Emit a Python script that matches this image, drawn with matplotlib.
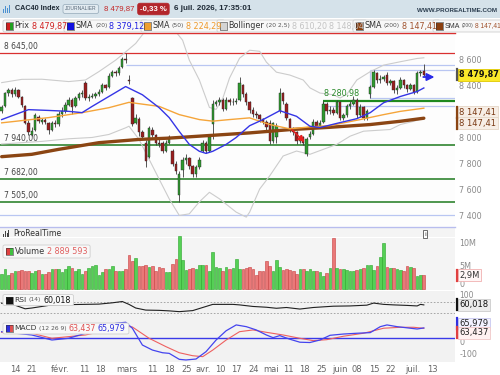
import matplotlib
matplotlib.use('Agg')
import matplotlib.pyplot as plt
from matplotlib.patches import Rectangle, FancyBboxPatch
from matplotlib.lines import Line2D
import numpy as np

plt.rcParams['font.family'] = ['DejaVu Sans']

# ---------------- data ----------------
opens = [8200, 8240, 8340, 8360, 8330, 8360, 8310, 8240, 8110, 8020,
         8060, 8160, 8120, 8135, 8110, 8060, 8110, 8100, 8180, 8200,
         8250, 8290, 8240, 8300, 8330, 8420, 8300, 8310, 8320, 8330,
         8350, 8400, 8390, 8470, 8500, 8490, 8540, 8600, 8440, 8300,
         8110, 8140, 8040, 7960, 7850, 8060, 8020, 7960, 7960, 7900,
         7960, 7900, 7800, 7560, 7750, 7830, 7840, 7780, 7720, 7770,
         7900, 7960, 7900, 8100, 8260, 8270, 8290, 8220, 8290, 8270,
         8270, 8290, 8400, 8330, 8270, 8210, 8180, 8170, 8140, 8115,
         8110, 7970, 8000, 8200, 8340, 8260, 8140, 8060, 8040, 7970,
         8000, 7870, 8000, 8030, 8120, 8090, 8120, 8260, 8200, 8210,
         8190, 8270, 8150, 8170, 8240, 8260, 8290, 8170, 8230, 8150,
         8330, 8390, 8490, 8440, 8450, 8480, 8420, 8430, 8360, 8380,
         8440, 8400, 8370, 8400, 8350, 8490, 8510]
highs = [8250, 8350, 8380, 8375, 8390, 8370, 8320, 8250, 8130, 8080,
         8190, 8175, 8150, 8150, 8120, 8125, 8130, 8200, 8230, 8270,
         8310, 8300, 8320, 8350, 8360, 8430, 8330, 8340, 8350, 8370,
         8420, 8410, 8490, 8520, 8520, 8550, 8620, 8645, 8480, 8310,
         8180, 8160, 8060, 7980, 8090, 8080, 8030, 7990, 7970, 7980,
         8020, 7910, 7820, 7740, 7850, 7870, 7850, 7790, 7790, 7850,
         7980, 7970, 8010, 8290, 8290, 8310, 8300, 8310, 8300, 8300,
         8300, 8460, 8410, 8350, 8280, 8230, 8200, 8180, 8150, 8130,
         8130, 8120, 8110, 8380, 8350, 8270, 8150, 8080, 8050, 8020,
         8010, 8000, 8050, 8140, 8130, 8130, 8281, 8270, 8240, 8230,
         8290, 8280, 8190, 8260, 8280, 8320, 8300, 8260, 8240, 8220,
         8400, 8520, 8500, 8480, 8480, 8500, 8450, 8440, 8400, 8460,
         8450, 8410, 8420, 8410, 8510, 8520, 8560]
lows = [8190, 8230, 8320, 8310, 8320, 8300, 8230, 8100, 8020, 8010,
        8050, 8110, 8100, 8100, 8030, 8050, 8080, 8090, 8160, 8190,
        8240, 8180, 8230, 8290, 8310, 8290, 8280, 8300, 8300, 8320,
        8340, 8360, 8380, 8460, 8470, 8480, 8530, 8570, 8410, 8090,
        8100, 8010, 7990, 7770, 7840, 8000, 7940, 7930, 7880, 7890,
        7950, 7780, 7720, 7505, 7700, 7800, 7760, 7700, 7700, 7760,
        7890, 7880, 7890, 7990, 8240, 8250, 8200, 8210, 8250, 8250,
        8260, 8280, 8310, 8250, 8190, 8160, 8150, 8120, 8100, 8060,
        7950, 7960, 7960, 8190, 8260, 8130, 8040, 8020, 7950, 7960,
        7940, 7855, 7990, 8020, 8070, 8080, 8110, 8180, 8180, 8170,
        8180, 8130, 8130, 8160, 8220, 8250, 8150, 8160, 8130, 8130,
        8300, 8380, 8420, 8420, 8430, 8400, 8400, 8340, 8330, 8370,
        8380, 8350, 8360, 8330, 8340, 8470, 8470]
closes = [8230, 8340, 8360, 8330, 8360, 8310, 8250, 8110, 8040, 8050,
          8170, 8125, 8130, 8120, 8060, 8110, 8100, 8180, 8200, 8250,
          8290, 8230, 8300, 8330, 8340, 8300, 8310, 8320, 8330, 8350,
          8400, 8380, 8470, 8500, 8490, 8530, 8600, 8590, 8430, 8100,
          8150, 8045, 8000, 7820, 8070, 8020, 7960, 7950, 7900, 7960,
          8000, 7800, 7740, 7720, 7830, 7840, 7780, 7720, 7770, 7830,
          7960, 7900, 8000, 8260, 8270, 8290, 8220, 8290, 8270, 8275,
          8280, 8420, 8330, 8270, 8210, 8180, 8170, 8140, 8115, 8080,
          7970, 8110, 8090, 8340, 8280, 8150, 8060, 8040, 7970, 8000,
          7960, 7990, 8030, 8120, 8090, 8110, 8260, 8200, 8210, 8190,
          8270, 8150, 8170, 8240, 8260, 8290, 8170, 8230, 8150, 8200,
          8390, 8500, 8440, 8450, 8460, 8420, 8430, 8360, 8380, 8440,
          8400, 8370, 8400, 8350, 8490, 8500, 8479.87]
volume_m = [3.3, 4.3, 3.0, 3.4, 3.9, 3.75, 4.0, 3.75, 3.9, 3.4,
            3.75, 4.0, 3.3, 3.3, 3.6, 4.3, 4.3, 4.2, 3.6, 4.3,
            4.8, 4.5, 3.75, 4.3, 3.3, 3.75, 4.5, 5.0, 5.2, 3.0,
            3.6, 4.3, 4.3, 4.8, 3.9, 3.75, 3.9, 4.2, 7.3, 6.0,
            6.6, 5.0, 5.0, 5.2, 4.6, 4.8, 3.9, 4.6, 4.5, 3.55,
            3.55, 5.3, 6.45, 11.3, 6.2, 4.0, 4.2, 4.5, 4.2, 5.2,
            5.2, 5.2, 3.9, 7.9, 4.7, 4.5, 3.75, 4.6, 4.2, 4.5,
            6.45, 4.2, 4.2, 4.5, 4.6, 4.2, 3.0, 3.75, 3.9, 5.9,
            4.8, 3.75, 6.1, 4.7, 4.0, 4.2, 4.0, 3.75, 3.3, 4.3,
            4.2, 3.75, 4.3, 3.75, 3.75, 3.6, 2.7, 3.4, 4.5, 10.8,
            4.5, 4.2, 4.3, 4.0, 3.75, 3.75, 4.0, 4.2, 4.5, 5.2,
            5.2, 4.0, 5.0, 6.8, 9.8, 4.6, 4.5, 4.5, 4.2, 4.0,
            3.75, 4.8, 4.6, 4.5, 2.8, 2.89, 2.89]

sma20_x = [0, 8, 14, 20, 24, 27, 32, 37, 42, 47, 50, 53, 56, 59, 61, 63, 67, 70,
           74, 78, 83, 88, 92, 95, 101, 106, 110, 114, 119, 124, 126]
sma20_y = [8137, 8213, 8207, 8200, 8190, 8238, 8314, 8390, 8327, 8228, 8152, 8046,
           7947, 7894, 7878, 7894, 7947, 8000, 8090, 8137, 8205, 8162, 8086, 8076,
           8114, 8144, 8190, 8266, 8314, 8352, 8379.12]
sma50_x = [0, 14, 24, 32, 38, 47, 53, 59, 63, 68, 74, 80, 86, 92, 98, 107, 114, 119, 126]
sma50_y = [8112, 8152, 8190, 8228, 8269, 8238, 8175, 8137, 8125, 8137, 8150, 8099,
           8066, 8081, 8091, 8137, 8175, 8200, 8224.29]
sma200_x = [0, 9, 17, 29, 41, 50, 59, 74, 86, 98, 110, 119, 126]
sma200_y = [7853, 7871, 7909, 7960, 7985, 7995, 8010, 8035, 8060, 8078, 8099, 8124, 8147.41]
boll_up_x = [0, 6, 12, 20, 25, 29, 34, 37, 40, 43, 47, 51, 54, 56, 59, 62, 64,
             66, 68, 71, 74, 77, 79, 82, 86, 90, 92, 95, 99, 101, 103, 106, 110,
             114, 119, 124, 126]
boll_up_y = [8420, 8445, 8446, 8428, 8440, 8504, 8592, 8655, 8720, 8820, 8880, 8840,
             8745, 8592, 8440, 8230, 8215, 8300, 8455, 8607, 8668, 8660, 8577, 8500,
             8478, 8440, 8380, 8340, 8327, 8302, 8330, 8440, 8504, 8554, 8580, 8605, 8610.20]
boll_lo_x = [0, 12, 20, 27, 32, 37, 38, 41, 44, 47, 50, 53, 56, 59, 62, 65, 70, 73,
             74, 77, 80, 84, 88, 92, 96, 100, 104, 108, 116, 119, 123, 126]
boll_lo_y = [7950, 7970, 7990, 8000, 8023, 8074, 8086, 7985, 7833, 7681, 7530, 7403,
             7415, 7507, 7580, 7530, 7428, 7390, 7428, 7605, 7706, 7858, 7896, 7871,
             7909, 7947, 8010, 8048, 8061, 8099, 8124, 8148.04]
rsi_x = [0, 2, 7, 9, 14, 20, 29, 33, 36, 38, 40, 43, 47, 50, 53, 57, 60, 63, 69, 71,
         75, 79, 82, 85, 89, 93, 99, 104, 109, 111, 114, 117, 121, 124, 125, 126]
rsi_y = [66, 68, 45, 48, 58, 61, 63, 68, 73, 62, 48, 40, 39, 37, 34, 38, 50, 62, 62, 60,
         54, 51, 47, 50, 44, 50, 55, 56, 59, 67, 62, 60, 58, 56, 62, 60.018]
macd_x = [0, 9, 15, 20, 29, 34, 37, 39, 42, 45, 48, 50, 53, 55, 58, 61, 64, 67, 70,
          73, 76, 79, 81, 83, 86, 89, 92, 95, 98, 102, 106, 110, 113, 115, 118, 122, 124, 126]
macd_y = [42, 21, -11, 0, 57, 95, 102, 64, -43, -75, -92, -96, -134, -138, -132, -85,
          -11, 48, 85, 74, 53, 21, 4, 17, -6, -25, -27, -11, 19, 27, 32, 36, 74, 85, 74,
          64, 59, 65.979]
signal_x = [0, 9, 15, 25, 37, 39, 44, 49, 53, 57, 60, 63, 67, 71, 75, 79, 84, 89, 93,
            97, 102, 108, 114, 119, 123, 126]
signal_y = [38, 32, 0, 21, 78, 72, 0, -53, -92, -111, -117, -75, -11, 42, 53, 38, 21, 0,
            -15, -9, 13, 32, 64, 70, 70, 63.437]

date_tick_pos = [4.0, 9.0, 17.4, 24.6, 29.6, 37.4, 44.9, 50.2, 55.3, 60.1, 65.2, 70.2,
                 75.3, 80.4, 85.5, 90.5, 95.6, 101.0, 106.0, 111.1, 116.2, 122.8, 128.7]
date_tick_labels = ['14', '21', 'févr.', '11', '18', 'mars', '11', '18', '25', 'avr.',
                    '10', '17', '24', 'mai', '11', '18', '25', 'juin', '08', '15', '22',
                    'juil.', '13']

green_levels = [7940, 7682, 7505]
green_level_labels = ['7 940,00', '7 682,00', '7 505,00']
red_level = 8645
res_level = 8280.98

# ---------------- layout ----------------
W, H = 500, 375
fig = plt.figure(figsize=(5, 3.75), dpi=100)
fig.patch.set_facecolor('white')
HF = ['Liberation Sans', 'DejaVu Sans']


def fx(x):
    return x / W


def fy(y):
    return 1 - y / H


def axrect(x0, y0, x1, y1):
    return [x0 / W, 1 - y1 / H, (x1 - x0) / W, (y1 - y0) / H]


ax_p = fig.add_axes(axrect(0, 33, 455, 226))
ax_v = fig.add_axes(axrect(0, 227, 455, 290), sharex=ax_p)
ax_r = fig.add_axes(axrect(0, 291, 455, 321), sharex=ax_p)
ax_m = fig.add_axes(axrect(0, 321, 455, 362), sharex=ax_p)

N = len(closes)
idx = np.arange(N)
o = np.array(opens, float)
c = np.array(closes, float)
hi = np.array(highs, float)
lo = np.array(lows, float)
up = c >= o

for a in (ax_p, ax_v, ax_r, ax_m):
    for s in a.spines.values():
        s.set_visible(False)
    a.tick_params(axis='both', length=0)
    a.yaxis.tick_right()
    a.tick_params(axis='y', labelsize=5.8, labelcolor='#8a8a8a', pad=3)
    a.tick_params(axis='x', labelbottom=False)

ax_p.set_xlim(-0.5, 135.3)
ax_p.set_facecolor('#fdfdfd')
ax_v.set_facecolor('#f4f4f4')
ax_r.set_facecolor('#f2f2f2')
ax_m.set_facecolor('#f2f2f2')

# ---------------- price panel ----------------
ax_p.set_ylim(7322, 8800)
ax_p.spines['top'].set_visible(True)
ax_p.spines['top'].set_color('#d93030')
ax_p.spines['top'].set_linewidth(1.0)
ax_p.set_yticks([7400, 7600, 7800, 8000, 8400, 8600])
ax_p.set_yticklabels(['7 400', '7 600', '7 800', '8 000', '8 400', '8 600'])

xmax = 135.3
ax_p.axhline(red_level, color='#d93030', lw=0.9, zorder=1)
for lv in green_levels:
    ax_p.axhline(lv, color='#1f7a1f', lw=1.1, zorder=1)
ax_p.axhline(7408, color='#b9c6f2', lw=0.9, zorder=1)
ax_p.hlines(8555, 37, xmax, color='#b9c6f2', lw=0.9, zorder=1)
ax_p.hlines([8517, 8305], 110, xmax, color='#b9c6f2', lw=0.9, zorder=1)
ax_p.vlines(110, 8305, 8517, color='#b9c6f2', lw=0.9, zorder=1)
ax_p.hlines(8241, 96, xmax, color='#b9c6f2', lw=0.9, zorder=1)
ax_p.hlines(res_level, 96, xmax, color='#1f8a1f', lw=1.6, zorder=1)
ax_p.vlines(96, res_level - 25, res_level, color='#1f8a1f', lw=0.8, zorder=1)
ax_p.text(96.3, res_level + 20, '8 280,98', color='#2a8a2a', fontsize=5.8,
          va='bottom', ha='left', zorder=6)

ax_p.text(0.8, red_level + 18, '8 645,00', color='#444444', fontsize=5.5, va='bottom', ha='left')
for lv, lab in zip(green_levels, green_level_labels):
    ax_p.text(0.8, lv + 18, lab, color='#444444', fontsize=5.5, va='bottom', ha='left')

# bollinger
ax_p.plot(boll_up_x, boll_up_y, color='#cccccc', lw=0.8, zorder=2)
ax_p.plot(boll_lo_x, boll_lo_y, color='#cccccc', lw=0.8, zorder=2)

# candles
ax_p.vlines(idx, lo, hi, color='#3a3a3a', lw=0.6, zorder=3)
body_lo = np.minimum(o, c)
body_h = np.maximum(np.abs(c - o), 4)
ax_p.bar(idx, body_h, bottom=body_lo, width=0.72,
         color=np.where(up, '#2e9a2e', '#9a1e1e'), edgecolor='#2a2a2a', linewidth=0.3, zorder=3)

ax_p.plot(sma200_x, sma200_y, color='#8b4513', lw=2.4, zorder=4, solid_capstyle='round')
ax_p.plot(sma50_x, sma50_y, color='#f5a53a', lw=1.0, zorder=4)
ax_p.plot(sma20_x, sma20_y, color='#3535e6', lw=1.0, zorder=4)

ax_p.annotate('', xy=(91, 7950), xytext=(86, 8075),
              arrowprops=dict(arrowstyle='-|>', color='#e82020', lw=1.1, mutation_scale=9), zorder=6)
ax_p.annotate('', xy=(130, 8463), xytext=(125, 8463),
              arrowprops=dict(arrowstyle='-|>', color='#2a2ae8', lw=1.3, mutation_scale=11), zorder=6)

# ---------------- volume ----------------
vcol = np.where(up, '#55d055', '#ea7878')
vedge = np.where(up, '#2aa52a', '#c84040')
ax_v.bar(idx, volume_m, width=0.8, color=vcol, edgecolor=vedge, linewidth=0.4, zorder=3)
ax_v.set_ylim(-0.2, 13.2)
ax_v.set_yticks([0, 5, 10])
ax_v.set_yticklabels(['0', '5M', '10M'])
ax_v.get_yticklabels()[0].set_verticalalignment('bottom')
ax_v.spines['top'].set_visible(True)
ax_v.spines['top'].set_color('#b8bdee')
ax_v.spines['top'].set_linewidth(1.0)
ax_v.axhline(11.0, color='#ffffff', lw=0.8, zorder=1)

# ---------------- RSI ----------------
ax_r.set_ylim(-2, 113.5)
ax_r.set_yticks([100])
ax_r.set_yticklabels(['100'])
ax_r.tick_params(axis='y', labelsize=5.5)
for lv in (70, 30):
    ax_r.axhline(lv, color='#9a9a9a', lw=0.6, ls=(0, (2, 2)), zorder=1)
ax_r.plot(rsi_x, rsi_y, color='#202020', lw=0.8, zorder=3)

# ---------------- MACD ----------------
ax_m.set_ylim(-151, 110)
ax_m.set_yticks([0, -100])
ax_m.set_yticklabels(['0', '-100'])
ax_m.get_yticklabels()[0].set_verticalalignment('top')
ax_m.axhline(0, color='#3a3ae8', lw=1.0, zorder=1)
ax_m.plot(signal_x, signal_y, color='#ee6060', lw=0.8, zorder=3)
ax_m.plot(macd_x, macd_y, color='#4444ee', lw=0.9, zorder=3)
ax_m.set_xticks(date_tick_pos)
ax_m.set_xticklabels(date_tick_labels)
ax_m.tick_params(axis='x', labelbottom=True, labelsize=6, labelcolor='#666666', pad=2.5)

# ---------------- texts / boxes ----------------
fig.canvas.draw()
renderer = fig.canvas.get_renderer()


def yval_px(ax, v):
    return H - ax.transData.transform((0, v))[1]


def add_rect(x0, y0, x1, y1, fc, ec='none', lw=0.0, round_=False, z=1):
    if round_:
        p = FancyBboxPatch((fx(x0), fy(y1)), fx(x1) - fx(x0), fy(y0) - fy(y1),
                           boxstyle='round,pad=0,rounding_size=0.004',
                           transform=fig.transFigure, fc=fc, ec=ec, lw=lw, zorder=z)
    else:
        p = Rectangle((fx(x0), fy(y1)), fx(x1) - fx(x0), fy(y0) - fy(y1),
                      transform=fig.transFigure, fc=fc, ec=ec, lw=lw, zorder=z)
    fig.add_artist(p)
    return p


def fit_text(x0, x1, y, s, size, **kw):
    t = fig.text(fx(x0), fy(y), s, fontsize=size, va='center', ha='left', **kw)
    while t.get_window_extent(renderer).width > (x1 - x0) and size > 3:
        size -= 0.1
        t.set_fontsize(size)
    return t


def legend_item(x, y, sq_colors, pieces, h=12, box=True, family=None, scale=1.0):
    x0 = x
    x += 3
    n = len(sq_colors)
    sw = 7.0
    for k, col in enumerate(sq_colors):
        add_rect(x + k * sw / n, y - 3.5, x + (k + 1) * sw / n, y + 3.5, col, z=5)
    fig.add_artist(Rectangle((fx(x), fy(y + 3.5)), sw / W, 7 / H, transform=fig.transFigure,
                             fc='none', ec='#333333', lw=0.4, zorder=6))
    x += sw + 1.5
    for s, col, size, wt in pieces:
        kw = {}
        if family:
            kw['family'] = family
        t = fig.text(fx(x), fy(y), s, color=col, fontsize=size * scale, fontweight=wt,
                     va='center', ha='left', zorder=7, **kw)
        bb = t.get_window_extent(renderer)
        x = bb.x1 + 2.0 * scale
    if box:
        add_rect(x0, y - h / 2, x + 1, y + h / 2, '#f8f8f8', ec='#cfcfcf', lw=0.6, round_=True, z=4)
    return x + 1


# header
add_rect(0, 0, 500, 17.5, '#d5e2ea', z=0)
for k, hh in enumerate([4, 7, 5, 8]):
    add_rect(3 + k * 2, 13 - hh, 4.2 + k * 2, 13, '#4a90d0', z=2)
fit_text(15, 60, 9, 'CAC40 Index', 6.4, fontweight='bold', color='#1e2a36', family=HF)
fit_text(65, 97, 9, 'JOURNALIER', 4.6, color='#5a6b7a', family=HF,
         bbox=dict(boxstyle='round,pad=0.4', fc='#e2ebf1', ec='#9fb2c0', lw=0.6))
fit_text(104, 135, 9, '8 479,87', 6.4, color='#c42424', family=HF)
fit_text(140, 167, 9, '-0,33 %', 6.0, fontweight='bold', color='white', family=HF,
         bbox=dict(boxstyle='round,pad=0.3', fc='#b3262b', ec='#b3262b', lw=0.5))
fit_text(174, 252, 9, '6 juil. 2026, 17:35:01', 6.4, fontweight='bold', color='#1e2a36',
         family=HF)
fig.text(fx(497), fy(10), 'WWW.PROREALTIME.COM', fontsize=4.5, fontweight='bold',
         color='#2c3e50', va='center', ha='right', family=HF)

# legend row
ly = 26
legend_item(3, ly, ['#d02020', '#20a020'],
            [('Prix', '#333333', 5.8, 'normal'), ('8 479,87', '#d02020', 5.8, 'normal')])
legend_item(64, ly, ['#1010e0'],
            [('SMA', '#333333', 5.8, 'normal'), ('(20)', '#555555', 4.3, 'normal'),
             ('8 379,12', '#2020e0', 5.8, 'normal')])
legend_item(141, ly, ['#f0a030'],
            [('SMA', '#333333', 5.8, 'normal'), ('(50)', '#555555', 4.3, 'normal'),
             ('8 224,29', '#f09a2a', 5.8, 'normal')])
legend_item(217, ly, ['#d4d4d4'],
            [('Bollinger', '#333333', 5.8, 'normal'), ('(20 2,5)', '#555555', 4.3, 'normal'),
             ('8 610,20', '#c4c4c4', 5.8, 'normal'), ('8 148,04', '#c4c4c4', 5.8, 'normal')])
legend_item(353, ly, ['#8b4010'],
            [('SMA', '#333333', 5.8, 'normal'), ('(200)', '#555555', 4.3, 'normal'),
             ('8 147,41', '#a0522d', 5.8, 'normal')])
legend_item(433, ly, ['#8b4010'],
            [('SMA', '#333333', 5.3, 'normal'), ('(200)', '#555555', 3.8, 'normal'),
             ('8 147,41', '#a0522d', 5.0, 'normal')], family=HF, scale=0.95)


def value_box(xp, yp, text, fc, ec, tc, bar, weight='normal', size=6.0):
    fig.text(fx(xp + 4), fy(yp), text, fontsize=size, color=tc, fontweight=weight,
             va='center', ha='left', zorder=8,
             bbox=dict(boxstyle='square,pad=0.18', fc=fc, ec=ec, lw=0.6))
    fig.add_artist(Line2D([fx(xp + 2), fx(xp + 2)], [fy(yp - 5.5), fy(yp + 5.5)], color=bar,
                          lw=1.6, transform=fig.transFigure, zorder=9))


value_box(455, yval_px(ax_p, closes[-1]), '8 479,87', '#fbe92a', '#e0c800', '#111111',
          '#555555', weight='bold', size=5.9)
value_box(455, yval_px(ax_p, sma200_y[-1]) - 6, '8 147,41', '#f7eee6', '#e5d5c5', '#7a3a14', '#8b4513')
value_box(455, yval_px(ax_p, sma200_y[-1]) + 5, '8 147,41', '#f7eee6', '#e5d5c5', '#7a3a14', '#8b4513')
value_box(455, yval_px(ax_v, volume_m[-1]), '2,9M', '#fff6f6', '#f0b0b0', '#333333', '#e04040')
value_box(455, yval_px(ax_r, rsi_y[-1]), '60,018', '#ececec', '#cccccc', '#111111', '#111111')
value_box(455, yval_px(ax_m, macd_y[-1]) - 4, '65,979', '#f2f2ff', '#c8c8f0', '#222222', '#3030e0')
value_box(455, yval_px(ax_m, signal_y[-1]) + 4.5, '63,437', '#fff2f2', '#f0c8c8', '#222222', '#e04040')

# volume header
for k, hh in enumerate([3, 6, 4, 7]):
    add_rect(3 + k * 1.8, 237 - hh, 4 + k * 1.8, 237, '#444444', z=5)
fig.text(fx(13), fy(233.5), 'ProRealTime', fontsize=5.6, color='#333333', va='center', ha='left')
fig.text(fx(425), fy(234), 'i', fontsize=4.5, color='#333333', va='center', ha='center',
         bbox=dict(boxstyle='square,pad=0.25', fc='white', ec='#555555', lw=0.6))

legend_item(3, 251.5, ['#e04040', '#40c040'],
            [('Volume', '#333333', 5.8, 'normal'), ('2 889 593', '#e06060', 5.8, 'normal')], h=13)
legend_item(3, 300, ['#111111'],
            [('RSI', '#333333', 5.4, 'normal'), ('(14)', '#555555', 4.3, 'normal'),
             ('60,018', '#111111', 5.8, 'normal')], h=11)
legend_item(3, 328.5, ['#3030e0', '#e05050'],
            [('MACD', '#333333', 5.4, 'normal'), ('(12 26 9)', '#555555', 4.3, 'normal'),
             ('63,437', '#e05050', 5.8, 'normal'), ('65,979', '#3030e0', 5.8, 'normal')], h=11)

fig.savefig('out.png', dpi=100, facecolor='white')
